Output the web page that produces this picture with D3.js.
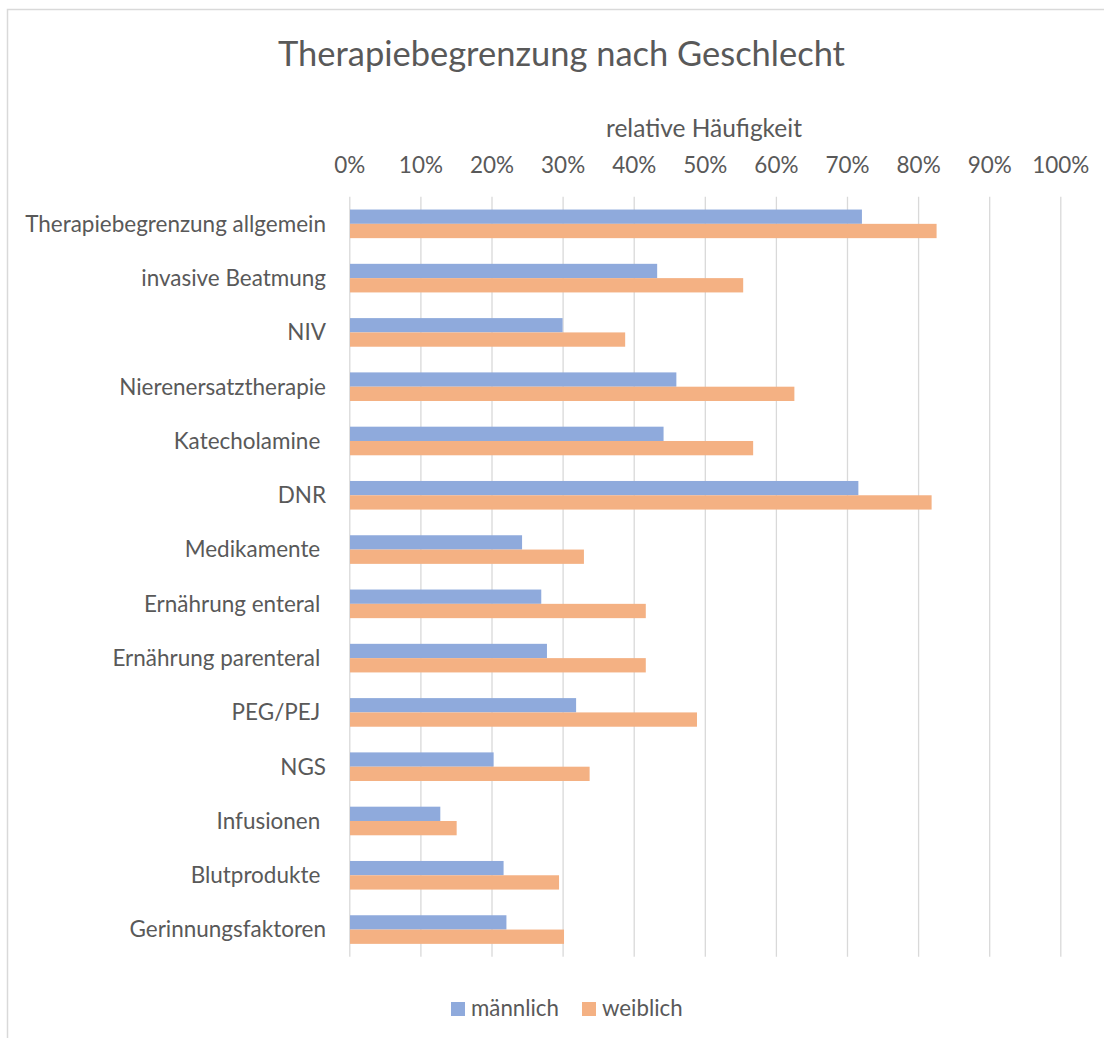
<!DOCTYPE html>
<html>
<head>
<meta charset="utf-8">
<script src="https://cdn.jsdelivr.net/npm/d3@7"></script>
<style>
  html, body { margin: 0; padding: 0; background: #fff; }
  svg text { white-space: pre; }
</style>
</head>
<body>
<svg id="chart" width="1104" height="1038"></svg>
<script>
const categories = [
  "Therapiebegrenzung allgemein",
  "invasive Beatmung",
  "NIV",
  "Nierenersatztherapie",
  "Katecholamine ",
  "DNR",
  "Medikamente ",
  "Ernährung enteral ",
  "Ernährung parenteral ",
  "PEG/PEJ ",
  "NGS",
  "Infusionen ",
  "Blutprodukte ",
  "Gerinnungsfaktoren"
];
const seriesNames = ["männlich", "weiblich"];
const maleValues =   [0.721, 0.433, 0.300, 0.460, 0.442, 0.716, 0.243, 0.270, 0.278, 0.319, 0.203, 0.128, 0.217, 0.221];
const femaleValues = [0.826, 0.554, 0.388, 0.626, 0.568, 0.819, 0.330, 0.417, 0.417, 0.489, 0.338, 0.151, 0.295, 0.302];
const tickValues = [0, 0.1, 0.2, 0.3, 0.4, 0.5, 0.6, 0.7, 0.8, 0.9, 1.0];
const titleText = "Therapiebegrenzung nach Geschlecht";
const axisTitleText = "relative Häufigkeit";

const colors = { "männlich": "#8FAADC", "weiblich": "#F4B183" };
const textColor = "#595959";
const gridColor = "#D9D9D9";
const FONT = "Lato, 'Open Sans', sans-serif";

const svg = d3.select("#chart");

// outer chart border
svg.append("rect")
  .attr("x", 7.5).attr("y", 9.5)
  .attr("width", 1200).attr("height", 1200)
  .attr("fill", "#fff").attr("stroke", "#D9D9D9").attr("stroke-width", 1.5);

const plot = { left: 349.3, right: 1060.3, top: 196.7, bottom: 956.7 };

const x = d3.scaleLinear().domain([0, 1]).range([plot.left, plot.right]);
const y = d3.scaleBand().domain(categories)
  .range([plot.top, plot.bottom])
  .paddingInner(0.473).paddingOuter(0.2365);
const ySub = d3.scaleBand().domain(seriesNames).range([0, y.bandwidth()]);

// helper to fit font size to a target width
function fitSize(text, target) {
  const t = svg.append("text").attr("font-family", FONT).attr("font-size", 100).text(text);
  const w = t.node().getComputedTextLength();
  t.remove();
  return 100 * target / w;
}
const labelSize = fitSize("Therapiebegrenzung allgemein", 301);
const titleSize = fitSize(titleText, 567);
const axisTitleSize = fitSize(axisTitleText, 196);
const legendSize = fitSize("männlich", 88);

// gridlines
const gridAxis = d3.axisTop(x).tickValues(tickValues)
  .tickSize(-(plot.bottom - plot.top)).tickFormat("");
svg.append("g")
  .attr("transform", `translate(0,${plot.top})`)
  .call(gridAxis)
  .call(g => g.select(".domain").remove())
  .call(g => g.selectAll(".tick line").attr("stroke", gridColor).attr("stroke-width", 1.3));

// tick labels
const tickAxis = d3.axisTop(x).tickValues(tickValues).tickSize(0)
  .tickFormat(d3.format(".0%"));
svg.append("g")
  .attr("transform", `translate(0,173)`)
  .call(tickAxis)
  .call(g => g.select(".domain").remove())
  .call(g => g.selectAll(".tick text")
     .attr("y", 0).attr("dy", 0)
     .attr("font-family", FONT).attr("font-size", labelSize).attr("fill", textColor));

// category axis labels
const catAxis = d3.axisLeft(y).tickSize(0).tickPadding(0);
svg.append("g")
  .attr("transform", `translate(326,0)`)
  .call(catAxis)
  .call(g => g.select(".domain").remove())
  .call(g => g.selectAll(".tick text")
     .attr("x", 0).attr("dy", "0.35em")
     .attr("font-family", FONT).attr("font-size", labelSize).attr("fill", textColor));

// bars
const rows = categories.map((c, i) => ({ cat: c, values: [
  { s: "männlich", v: maleValues[i] },
  { s: "weiblich", v: femaleValues[i] }
]}));
const groups = svg.append("g").selectAll("g").data(rows).join("g")
  .attr("transform", d => `translate(0,${y(d.cat)})`);
groups.selectAll("rect").data(d => d.values).join("rect")
  .attr("x", x(0) + 0.7)
  .attr("y", d => ySub(d.s))
  .attr("width", d => x(d.v) - x(0) - 0.7)
  .attr("height", ySub.bandwidth())
  .attr("fill", d => colors[d.s]);

// title
svg.append("text")
  .attr("x", 561.5).attr("y", 66)
  .attr("text-anchor", "middle")
  .attr("font-family", FONT).attr("font-size", titleSize).attr("fill", textColor)
  .text(titleText);

// axis title
svg.append("text")
  .attr("x", 704).attr("y", 137)
  .attr("text-anchor", "middle")
  .attr("font-family", FONT).attr("font-size", axisTitleSize).attr("fill", textColor)
  .text(axisTitleText);

// legend
const legendItems = [
  { s: "männlich", x: 451 },
  { s: "weiblich", x: 582 }
];
const lg = svg.append("g").selectAll("g").data(legendItems).join("g")
  .attr("transform", d => `translate(${d.x},1002)`);
lg.append("rect").attr("width", 14).attr("height", 14).attr("fill", d => colors[d.s]);
lg.append("text").attr("x", 20).attr("y", 14)
  .attr("font-family", FONT).attr("font-size", legendSize).attr("fill", textColor)
  .text(d => d.s);
</script>
</body>
</html>
